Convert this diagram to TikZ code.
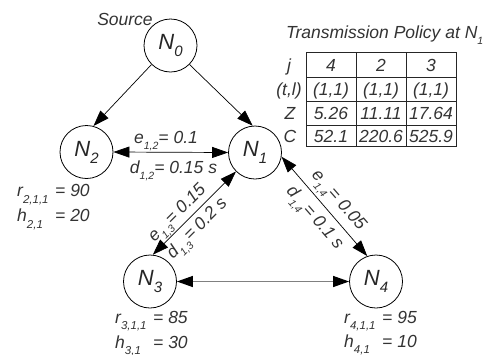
\documentclass[tikz,border=0pt]{standalone}
\usepackage{fontspec}
\setmainfont{Liberation Sans}
\usetikzlibrary{arrows.meta}
\definecolor{tc}{HTML}{333333}
\newcommand\nsub[1]{\raisebox{-7pt}{\fontsize{15}{15}\selectfont #1}}
\newcommand\esub[1]{\raisebox{-6pt}{\fontsize{10.5}{10.5}\selectfont #1}}
\newcommand\asub[1]{\raisebox{-6.5pt}{\fontsize{11.5}{11.5}\selectfont #1}}
\newcommand\eqbox[1]{\makebox[38pt][l]{#1}}
\begin{document}
\begin{tikzpicture}[x=1pt,y=-1pt,
  nd/.style={circle, draw, line width=0.8pt, minimum size=53pt, inner sep=0pt,
    text=black!85, font=\fontsize{22}{22}\selectfont\itshape},
  lbl/.style={text=tc, font=\fontsize{17.5}{21}\selectfont\itshape, inner sep=0pt},
  tip/.tip={Triangle[length=16pt,width=11pt,color=black]},
  con/.style={line width=0.7pt, -tip},
  bicon/.style={line width=0.7pt, tip-tip},
  grid/.style={line width=0.8pt, draw=black!85}
]
\useasboundingbox (0,0) rectangle (497,354);

% nodes
\node[nd] (N0) at (170.5,45.5) {N\nsub{0}};
\node[nd] (N2) at (86.5,152) {N\nsub{2}};
\node[nd] (N1) at (255,152.5) {N\nsub{1}};
\node[nd] (N3) at (150,281.5) {N\nsub{3}};
\node[nd] (N4) at (376,281.5) {N\nsub{4}};

\node[lbl, anchor=base] (src) at (125,25) {Source};

% connectors
\draw[con] (N0.225) -- (N2.75);
\draw[con] (N0.315) -- (N1.95);
\draw[bicon] (N2.east) -- (N1.west);
\draw[bicon] (N3.84) -- (N1.225);
\draw[bicon] (N1.351) -- (N4.109);
\draw[bicon, draw=black!50, line width=1.3pt] (N3.east) -- (N4.west);

% edge labels
\node[lbl, anchor=base] (e12) at (166,143.3) {e\esub{1,2}= 0.1};
\node[lbl, anchor=base] (d12) at (173.5,173) {d\esub{1,2}= 0.15 s};
\node[lbl, anchor=base, rotate=45] (e13) at (180.6,216.5) {e\esub{1,3}= 0.15};
\node[lbl, anchor=base, rotate=45] (d13) at (200.4,231.7) {d\esub{1,3}= 0.2 s};
\node[lbl, anchor=base, rotate=-49] (e14) at (335.1,203.2) {e\esub{1,4}= 0.05};
\node[lbl, anchor=base, rotate=-49] (d14) at (311.3,221.1) {d\esub{1,4}= 0.1 s};

% node annotations
\node[lbl, anchor=base west] (a2r) at (17,196.7) {\eqbox{r\asub{2,1,1}}= 90};
\node[lbl, anchor=base west] (a2h) at (17,221.7) {\eqbox{h\asub{2,1}}= 20};
\node[lbl, anchor=base west] (a3r) at (115,323) {\eqbox{r\asub{3,1,1}}= 85};
\node[lbl, anchor=base west] (a3h) at (115,348) {\eqbox{h\asub{3,1}}= 30};
\node[lbl, anchor=base west] (a4r) at (344,323) {\eqbox{r\asub{4,1,1}}= 95};
\node[lbl, anchor=base west] (a4h) at (344,347) {\eqbox{h\asub{4,1}}= 10};

% table
\node[lbl, anchor=base west] (ttl) at (286,38) {Transmission Policy at N\esub{1}};
\draw[grid] (306,52.5) rectangle (456,146.5);
\draw[grid] (356,52.5) -- (356,146.5);
\draw[grid] (406,52.5) -- (406,146.5);
\draw[grid] (306,77) -- (456,77);
\draw[grid] (306,101.5) -- (456,101.5);
\draw[grid] (306,125) -- (456,125);

\node[lbl, anchor=base] (rj) at (289,71) {j};
\node[lbl, anchor=base] (rt) at (289,95) {(t,l)};
\node[lbl, anchor=base] (rz) at (290,119.5) {Z};
\node[lbl, anchor=base] (rc) at (290,142) {C};

\node[lbl, anchor=base] (c11) at (331,71) {4};
\node[lbl, anchor=base] (c12) at (381,71) {2};
\node[lbl, anchor=base] (c13) at (431,71) {3};
\node[lbl, anchor=base] (c21) at (331,95) {(1,1)};
\node[lbl, anchor=base] (c22) at (381,95) {(1,1)};
\node[lbl, anchor=base] (c23) at (431,95) {(1,1)};
\node[lbl, anchor=base] (c31) at (331,119.5) {5.26};
\node[lbl, anchor=base] (c32) at (381,119.5) {11.11};
\node[lbl, anchor=base] (c33) at (431,119.5) {17.64};
\node[lbl, anchor=base] (c41) at (331,142) {52.1};
\node[lbl, anchor=base] (c42) at (381,142) {220.6};
\node[lbl, anchor=base] (c43) at (431,142) {525.9};
\end{tikzpicture}
\end{document}
